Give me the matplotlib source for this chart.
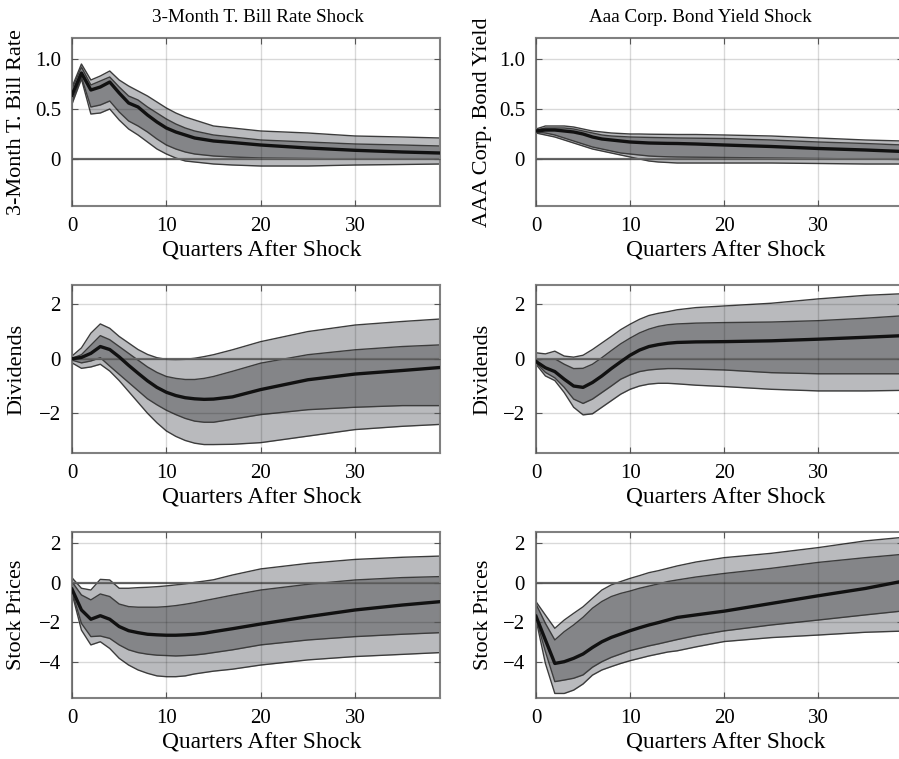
import matplotlib
matplotlib.use("Agg")
import matplotlib.pyplot as plt

plt.rcParams['font.family'] = ['Liberation Serif', 'DejaVu Serif']

quarters = list(range(16)) + [17, 20, 25, 30, 35, 39]

# --- T-bill rate, response to T-bill shock
tb_tb_ol = [0.55, 0.80, 0.45, 0.46, 0.50, 0.39, 0.30, 0.24, 0.17, 0.10, 0.05, 0.01, -0.02, -0.03, -0.04, -0.05, -0.06, -0.07, -0.07, -0.06, -0.055, -0.05]
tb_tb_il = [0.58, 0.82, 0.52, 0.54, 0.58, 0.47, 0.38, 0.33, 0.27, 0.20, 0.14, 0.10, 0.07, 0.05, 0.04, 0.03, 0.02, 0.01, 0.005, 0.0, 0.0, 0.0]
tb_tb_med = [0.64, 0.86, 0.69, 0.72, 0.77, 0.66, 0.56, 0.52, 0.44, 0.37, 0.31, 0.27, 0.24, 0.21, 0.195, 0.18, 0.165, 0.14, 0.11, 0.087, 0.07, 0.06]
tb_tb_iu = [0.70, 0.92, 0.74, 0.78, 0.82, 0.72, 0.63, 0.59, 0.52, 0.46, 0.40, 0.35, 0.31, 0.28, 0.26, 0.24, 0.22, 0.19, 0.17, 0.15, 0.14, 0.13]
tb_tb_ou = [0.72, 0.95, 0.79, 0.83, 0.88, 0.79, 0.73, 0.68, 0.63, 0.57, 0.51, 0.46, 0.42, 0.39, 0.36, 0.33, 0.31, 0.28, 0.26, 0.23, 0.22, 0.21]

# --- Aaa yield, response to Aaa shock
aa_aa_ol = [0.26, 0.24, 0.22, 0.19, 0.16, 0.13, 0.10, 0.08, 0.06, 0.04, 0.02, 0.0, -0.02, -0.03, -0.035, -0.04, -0.04, -0.04, -0.04, -0.045, -0.05, -0.05]
aa_aa_il = [0.27, 0.26, 0.24, 0.21, 0.18, 0.15, 0.12, 0.10, 0.08, 0.06, 0.05, 0.04, 0.03, 0.025, 0.022, 0.02, 0.018, 0.015, 0.01, 0.005, 0.0, -0.005]
aa_aa_med = [0.28, 0.29, 0.29, 0.28, 0.27, 0.25, 0.22, 0.20, 0.19, 0.18, 0.17, 0.165, 0.16, 0.158, 0.156, 0.155, 0.15, 0.14, 0.125, 0.105, 0.09, 0.075]
aa_aa_iu = [0.29, 0.31, 0.31, 0.31, 0.30, 0.28, 0.26, 0.24, 0.23, 0.225, 0.22, 0.218, 0.216, 0.214, 0.212, 0.21, 0.208, 0.205, 0.19, 0.17, 0.155, 0.14]
aa_aa_ou = [0.30, 0.33, 0.33, 0.33, 0.32, 0.30, 0.28, 0.27, 0.26, 0.255, 0.25, 0.25, 0.248, 0.247, 0.246, 0.245, 0.245, 0.24, 0.23, 0.21, 0.19, 0.18]

# --- Dividends, response to T-bill shock
dv_tb_ol = [-0.15, -0.35, -0.30, -0.20, -0.45, -0.80, -1.20, -1.60, -2.00, -2.35, -2.65, -2.85, -3.00, -3.10, -3.15, -3.15, -3.14, -3.08, -2.84, -2.60, -2.48, -2.41]
dv_tb_il = [-0.05, -0.15, -0.08, 0.04, -0.27, -0.57, -0.87, -1.17, -1.47, -1.69, -1.89, -2.05, -2.19, -2.29, -2.33, -2.33, -2.22, -2.05, -1.87, -1.78, -1.72, -1.72]
dv_tb_med = [0.0, 0.05, 0.20, 0.45, 0.34, 0.07, -0.24, -0.53, -0.81, -1.05, -1.23, -1.35, -1.43, -1.47, -1.49, -1.48, -1.40, -1.13, -0.77, -0.56, -0.43, -0.32]
dv_tb_iu = [0.02, 0.15, 0.50, 0.85, 0.70, 0.45, 0.20, -0.05, -0.30, -0.50, -0.65, -0.72, -0.76, -0.76, -0.72, -0.65, -0.46, -0.16, 0.15, 0.33, 0.45, 0.51]
dv_tb_ou = [0.10, 0.40, 0.94, 1.28, 1.12, 0.82, 0.58, 0.34, 0.16, 0.04, -0.02, -0.03, -0.02, 0.02, 0.08, 0.15, 0.33, 0.63, 1.00, 1.24, 1.37, 1.46]

# --- Dividends, response to Aaa shock
dv_aa_ol = [-0.20, -0.63, -0.80, -1.24, -1.78, -2.06, -2.02, -1.78, -1.54, -1.30, -1.12, -1.00, -0.93, -0.90, -0.90, -0.92, -0.97, -1.02, -1.12, -1.18, -1.18, -1.16]
dv_aa_il = [-0.15, -0.50, -0.70, -1.05, -1.48, -1.64, -1.48, -1.24, -1.00, -0.75, -0.59, -0.47, -0.41, -0.38, -0.36, -0.36, -0.38, -0.41, -0.51, -0.55, -0.55, -0.55]
dv_aa_med = [-0.10, -0.33, -0.47, -0.75, -1.00, -1.05, -0.87, -0.63, -0.36, -0.11, 0.13, 0.32, 0.45, 0.52, 0.57, 0.60, 0.62, 0.63, 0.66, 0.72, 0.79, 0.85]
dv_aa_iu = [-0.05, 0.0, 0.0, -0.20, -0.36, -0.35, -0.20, 0.04, 0.30, 0.55, 0.76, 0.95, 1.09, 1.19, 1.25, 1.28, 1.31, 1.33, 1.35, 1.40, 1.49, 1.58]
dv_aa_ou = [0.22, 0.18, 0.28, 0.10, 0.06, 0.13, 0.34, 0.58, 0.82, 1.07, 1.27, 1.45, 1.59, 1.67, 1.73, 1.80, 1.88, 1.94, 2.04, 2.20, 2.33, 2.39]

# --- Stock prices, response to T-bill shock
sp_tb_ol = [-0.54, -2.40, -3.15, -2.99, -3.33, -3.83, -4.17, -4.42, -4.59, -4.72, -4.76, -4.76, -4.72, -4.62, -4.55, -4.48, -4.38, -4.17, -3.91, -3.74, -3.63, -3.54]
sp_tb_il = [-0.45, -2.06, -2.73, -2.70, -2.82, -3.15, -3.40, -3.54, -3.62, -3.67, -3.69, -3.71, -3.69, -3.66, -3.61, -3.54, -3.40, -3.15, -2.90, -2.73, -2.61, -2.53]
sp_tb_med = [-0.33, -1.38, -1.85, -1.67, -1.85, -2.22, -2.43, -2.53, -2.61, -2.64, -2.66, -2.66, -2.64, -2.61, -2.56, -2.48, -2.33, -2.09, -1.72, -1.38, -1.13, -0.96]
sp_tb_iu = [0.05, -0.62, -0.87, -0.57, -0.70, -1.08, -1.21, -1.24, -1.24, -1.24, -1.21, -1.16, -1.09, -1.01, -0.91, -0.82, -0.63, -0.37, -0.08, 0.14, 0.26, 0.31]
sp_tb_ou = [0.25, -0.28, -0.37, 0.17, 0.14, -0.28, -0.28, -0.25, -0.23, -0.20, -0.16, -0.11, -0.06, 0.02, 0.08, 0.15, 0.39, 0.70, 0.98, 1.18, 1.29, 1.35]

# --- Stock prices, response to Aaa shock
sp_aa_ol = [-1.86, -4.09, -5.61, -5.61, -5.44, -5.13, -4.68, -4.42, -4.25, -4.09, -3.95, -3.83, -3.71, -3.61, -3.51, -3.45, -3.25, -2.98, -2.78, -2.65, -2.51, -2.45]
sp_aa_il = [-1.80, -3.49, -5.01, -4.93, -4.84, -4.67, -4.28, -4.00, -3.78, -3.61, -3.44, -3.32, -3.20, -3.10, -2.99, -2.88, -2.68, -2.44, -2.14, -1.89, -1.63, -1.43]
sp_aa_med = [-1.70, -2.90, -4.09, -4.00, -3.83, -3.61, -3.28, -2.99, -2.77, -2.60, -2.43, -2.28, -2.14, -2.02, -1.89, -1.76, -1.63, -1.44, -1.05, -0.66, -0.29, 0.08]
sp_aa_iu = [-1.08, -2.06, -2.90, -2.48, -2.14, -1.75, -1.29, -0.95, -0.70, -0.54, -0.42, -0.28, -0.17, -0.06, 0.06, 0.14, 0.29, 0.47, 0.73, 1.03, 1.27, 1.44]
sp_aa_ou = [-0.96, -1.64, -2.31, -1.89, -1.55, -1.22, -0.79, -0.37, -0.11, 0.06, 0.22, 0.36, 0.51, 0.61, 0.73, 0.85, 1.05, 1.27, 1.49, 1.78, 2.12, 2.30]

col_titles = ["3-Month T. Bill Rate Shock", "Aaa Corp. Bond Yield Shock"]
row_labels = [["3-Month T. Bill Rate", "AAA Corp. Bond Yield"],
              ["Dividends", "Dividends"],
              ["Stock Prices", "Stock Prices"]]
row_yticks = [[0, 0.5, 1.0], [-2, 0, 2], [-4, -2, 0, 2]]
row_yticklabels = [["0", "0.5", "1.0"], ["\u22122", "0", "2"], ["\u22124", "\u22122", "0", "2"]]
row_ylims = [(-0.47, 1.21), (-3.46, 2.71), (-5.84, 2.57)]
xticks = [0, 10, 20, 30]

panels = [[(tb_tb_ol, tb_tb_il, tb_tb_med, tb_tb_iu, tb_tb_ou),
           (aa_aa_ol, aa_aa_il, aa_aa_med, aa_aa_iu, aa_aa_ou)],
          [(dv_tb_ol, dv_tb_il, dv_tb_med, dv_tb_iu, dv_tb_ou),
           (dv_aa_ol, dv_aa_il, dv_aa_med, dv_aa_iu, dv_aa_ou)],
          [(sp_tb_ol, sp_tb_il, sp_tb_med, sp_tb_iu, sp_tb_ou),
           (sp_aa_ol, sp_aa_il, sp_aa_med, sp_aa_iu, sp_aa_ou)]]

W, H = 899, 759
fig = plt.figure(figsize=(W / 100, H / 100), dpi=100)

rows_px = [(38, 206), (285, 453), (532, 698)]
cols_px = [(72, 440), (536, 903)]
ylabel_x = [17, 483]
xlabel_x = [262, 726]
title_x = [258, 700]
fs_tick = 15
fs_lab = 16.8
fs_ylab = 16
fs_title = 13.8

for r in range(3):
    top, bot = rows_px[r]
    for c in range(2):
        left, right = cols_px[c]
        ax = fig.add_axes([left / W, 1 - bot / H, (right - left) / W, (bot - top) / H])
        ol, il, med, iu, ou = panels[r][c]
        ax.fill_between(quarters, ol, ou, color="#b9babd", lw=0, zorder=1)
        ax.fill_between(quarters, il, iu, color="#848588", lw=0, zorder=1.1)
        for s in (ol, il, iu, ou):
            ax.plot(quarters, s, color="#3c3c3c", lw=1.0, zorder=2)
        ax.axhline(0, color="#6a6a6a", lw=1.6, zorder=2.2)
        ax.plot(quarters, med, color="#111111", lw=2.4, zorder=3)

        ax.set_xlim(0, 39)
        ax.set_ylim(*row_ylims[r])
        ax.set_xticks(xticks)
        ax.set_xticklabels([str(t) for t in xticks])
        ax.set_yticks(row_yticks[r])
        ax.set_yticklabels(row_yticklabels[r])
        ax.tick_params(direction="in", length=4, width=0.8, color="#555555",
                       top=True, right=True, labelsize=fs_tick, pad=8)
        ax.set_axisbelow(False)
        ax.grid(True, color="k", alpha=0.15, lw=1.0)
        for sp in ax.spines.values():
            sp.set_color("#808080")
            sp.set_linewidth(1.5)

        fig.text(ylabel_x[c] / W, 1 - ((top + bot) / 2) / H, row_labels[r][c],
                 rotation=90, ha="center", va="center", fontsize=fs_ylab)
        fig.text(xlabel_x[c] / W, 1 - (bot + 44) / H, "Quarters After Shock",
                 ha="center", va="center", fontsize=fs_lab)

for c in range(2):
    fig.text(title_x[c] / W, 1 - 18 / H, col_titles[c], ha="center", va="center", fontsize=fs_title)

fig.savefig("out.png", dpi=100)
